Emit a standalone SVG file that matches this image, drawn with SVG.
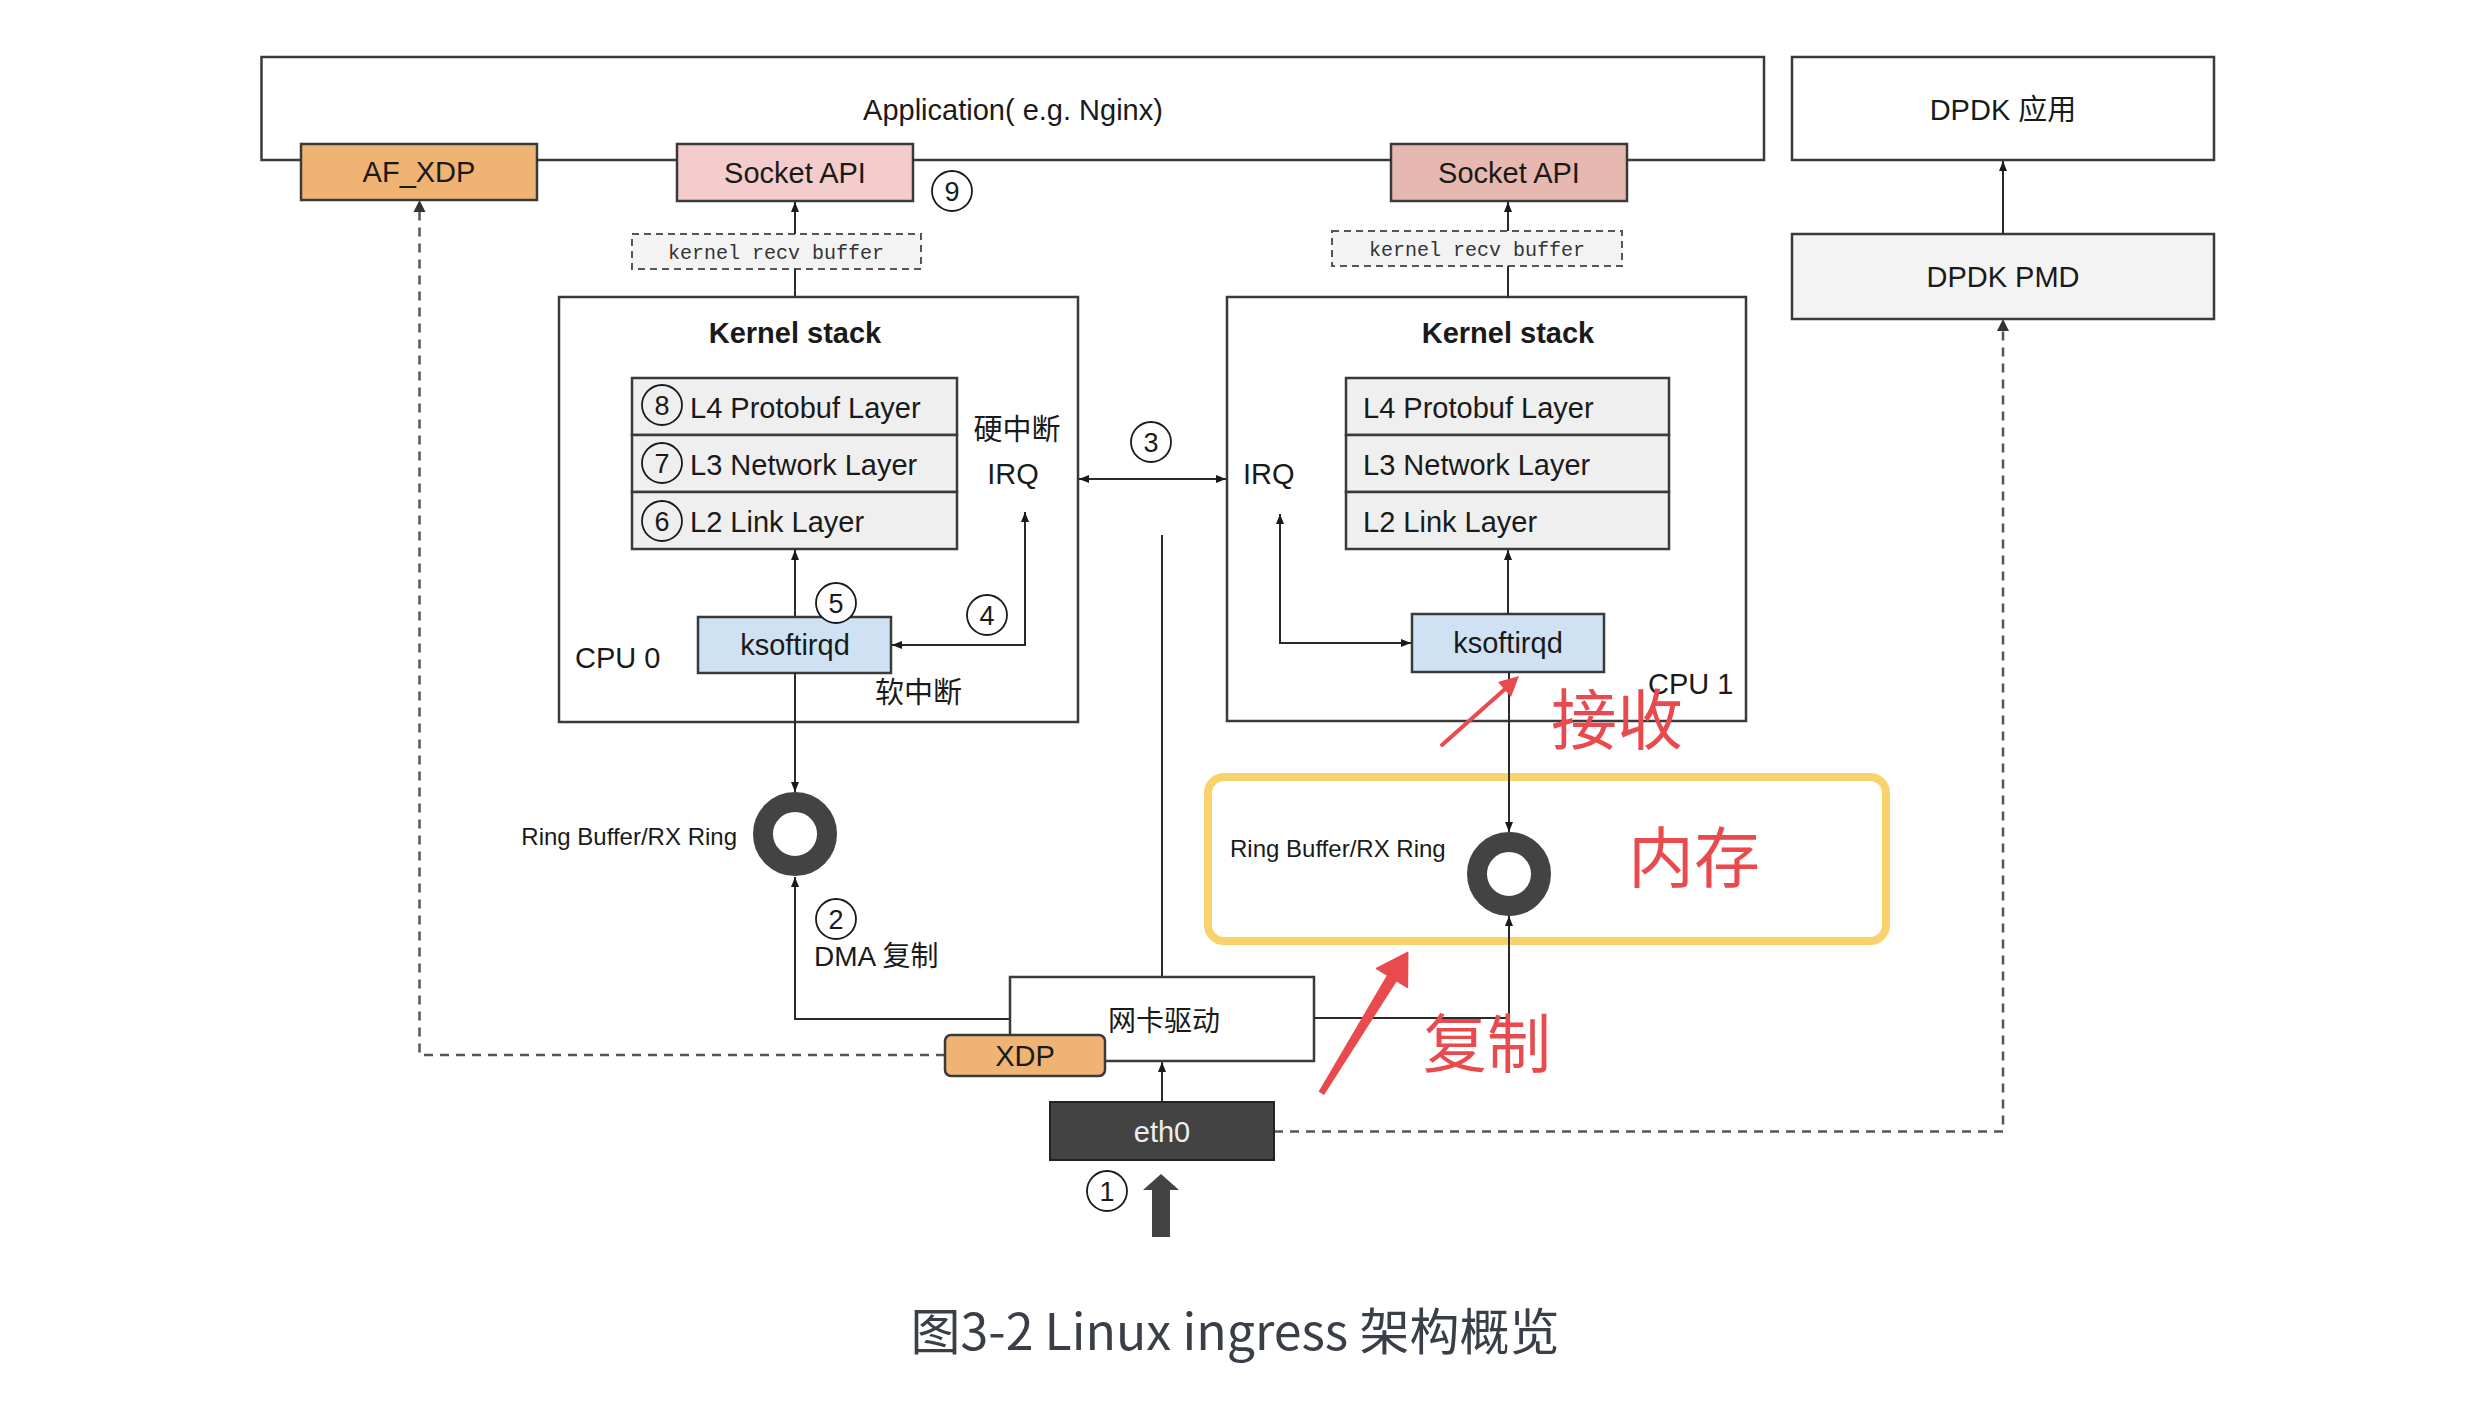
<svg xmlns="http://www.w3.org/2000/svg" width="2480" height="1402" viewBox="0 0 2480 1402">
<defs>
<style>
text{font-family:"Liberation Sans",Arial,"Noto Sans CJK SC",sans-serif;fill:#1a1a1a}
.t{font-size:29px}
.c{text-anchor:middle}
.b{font-weight:bold}
.box{stroke:#3a3a3a;stroke-width:2.5}
.ln{stroke:#2a2a2a;stroke-width:2;fill:none}
.dash{stroke:#555;stroke-width:2.5;fill:none;stroke-dasharray:9 7}
.num{font-size:27px;text-anchor:middle}
.circ{fill:none;stroke:#1a1a1a;stroke-width:1.8}
.mono{font-family:"Liberation Mono","DejaVu Sans Mono",monospace;font-size:20px;text-anchor:middle;fill:#333}
.red{fill:#e84a4e;font-family:"Noto Sans CJK SC",sans-serif}
.ring{fill:none;stroke:#434343;stroke-width:20}
</style>
<marker id="ah" viewBox="0 0 10 8" refX="10" refY="4" markerWidth="10" markerHeight="8" markerUnits="userSpaceOnUse" orient="auto-start-reverse">
<path d="M0,0 L10,4 L0,8 z" fill="#1a1a1a"/>
</marker>
</defs>
<rect width="2480" height="1402" fill="#ffffff"/>

<g id="application">
<rect class="box" x="261.5" y="57" width="1502.5" height="103" fill="#fff"/>
<text class="t c" x="1013" y="120">Application( e.g. Nginx)</text>
</g>
<g id="af_xdp">
<rect class="box" x="301" y="144" width="236" height="56" fill="#efb474"/>
<text class="t c" x="419" y="182">AF_XDP</text>
</g>
<g id="socket_api_0">
<rect class="box" x="677" y="144" width="236" height="57" fill="#f4cccc"/>
<text class="t c" x="795" y="183">Socket API</text>
</g>
<g id="socket_api_1">
<rect class="box" x="1391" y="144" width="236" height="57" fill="#e6b8af"/>
<text class="t c" x="1509" y="183">Socket API</text>
</g>
<g id="dpdk_app">
<rect class="box" x="1792" y="57" width="422" height="103" fill="#fff"/>
<text class="t c" x="2003" y="120">DPDK 应用</text>
</g>
<g id="dpdk_pmd">
<rect class="box" x="1792" y="234" width="422" height="85" fill="#f3f3f3"/>
<text class="t c" x="2003" y="287">DPDK PMD</text>
</g>
<g id="recv_buffer_0">
<rect x="632" y="234" width="289" height="35" fill="#f3f3f3" stroke="#555" stroke-width="2" stroke-dasharray="7 5"/>
<text class="mono" x="776" y="259">kernel recv buffer</text>
</g>
<g id="recv_buffer_1">
<rect x="1332" y="231" width="290" height="35" fill="#f3f3f3" stroke="#555" stroke-width="2" stroke-dasharray="7 5"/>
<text class="mono" x="1477" y="256">kernel recv buffer</text>
</g>

<g id="kernel_stack_0">
<rect class="box" x="559" y="297" width="519" height="425" fill="#fff"/>
<text class="t c b" x="795" y="343">Kernel stack</text>
<text class="t" x="575" y="668">CPU 0</text>
<text class="t c" x="1017" y="440">硬中断</text>
<text class="t c" x="1013" y="484">IRQ</text>
<text class="t" x="875" y="703">软中断</text>
</g>
<g id="layers_0">
<rect class="box" x="632" y="378" width="325" height="57" fill="#efefef"/>
<rect class="box" x="632" y="435" width="325" height="57" fill="#efefef"/>
<rect class="box" x="632" y="492" width="325" height="57" fill="#efefef"/>
<text class="t" x="690" y="418">L4 Protobuf Layer</text>
<text class="t" x="690" y="475">L3 Network Layer</text>
<text class="t" x="690" y="532">L2 Link Layer</text>
</g>
<g id="ksoftirqd_0">
<rect class="box" x="698" y="617" width="193" height="56" fill="#cfe2f3"/>
<text class="t c" x="795" y="655">ksoftirqd</text>
</g>

<g id="kernel_stack_1">
<rect class="box" x="1227" y="297" width="519" height="424" fill="#fff"/>
<text class="t c b" x="1508" y="343">Kernel stack</text>
<text class="t" x="1243" y="484">IRQ</text>
<text class="t" x="1648" y="694">CPU 1</text>
</g>
<g id="layers_1">
<rect class="box" x="1346" y="378" width="323" height="57" fill="#efefef"/>
<rect class="box" x="1346" y="435" width="323" height="57" fill="#efefef"/>
<rect class="box" x="1346" y="492" width="323" height="57" fill="#efefef"/>
<text class="t" x="1363" y="418">L4 Protobuf Layer</text>
<text class="t" x="1363" y="475">L3 Network Layer</text>
<text class="t" x="1363" y="532">L2 Link Layer</text>
</g>
<g id="ksoftirqd_1">
<rect class="box" x="1412" y="614" width="192" height="58" fill="#cfe2f3"/>
<text class="t c" x="1508" y="653">ksoftirqd</text>
</g>

<g id="memory_frame">
<rect x="1208" y="777" width="678" height="164" rx="16" fill="none" stroke="#f8d26b" stroke-width="8"/>
</g>

<g id="connectors">
<line class="ln" x1="2003" y1="234" x2="2003" y2="161" marker-end="url(#ah)"/>
<line class="ln" x1="795" y1="234" x2="795" y2="202" marker-end="url(#ah)"/>
<line class="ln" x1="795" y1="297" x2="795" y2="269"/>
<line class="ln" x1="1508" y1="231" x2="1508" y2="202" marker-end="url(#ah)"/>
<line class="ln" x1="1508" y1="297" x2="1508" y2="266"/>
<line class="ln" x1="795" y1="617" x2="795" y2="550" marker-end="url(#ah)"/>
<line class="ln" x1="1508" y1="614" x2="1508" y2="550" marker-end="url(#ah)"/>
<polyline class="ln" points="892,645 1025,645 1025,512" marker-start="url(#ah)" marker-end="url(#ah)"/>
<polyline class="ln" points="1411,643 1280,643 1280,514" marker-start="url(#ah)" marker-end="url(#ah)"/>
<line class="ln" x1="1079" y1="479" x2="1226" y2="479" marker-start="url(#ah)" marker-end="url(#ah)"/>
<line class="ln" x1="1162" y1="535" x2="1162" y2="977"/>
<line class="ln" x1="795" y1="673" x2="795" y2="792" marker-end="url(#ah)"/>
<line class="ln" x1="1509" y1="672" x2="1509" y2="832" marker-end="url(#ah)"/>
<polyline class="ln" points="1010,1019 795,1019 795,877" marker-end="url(#ah)"/>
<polyline class="ln" points="1314,1018 1509,1018 1509,916" marker-end="url(#ah)"/>
<line class="ln" x1="1162" y1="1102" x2="1162" y2="1062" marker-end="url(#ah)"/>
<polyline class="dash" points="945,1055 419.5,1055 419.5,212"/>
<path d="M413.5,212 L419.5,200 L425.5,212 z" fill="#333"/>
<polyline class="dash" points="1274,1131.5 2003,1131.5 2003,331"/>
<path d="M1997,331 L2003,319 L2009,331 z" fill="#333"/>
</g>

<g id="ring_0">
<circle class="ring" cx="795" cy="834" r="32"/>
<text x="737" y="845" font-size="24" text-anchor="end">Ring Buffer/RX Ring</text>
</g>
<g id="ring_1">
<circle class="ring" cx="1509" cy="874" r="32"/>
<text x="1230" y="857" font-size="24">Ring Buffer/RX Ring</text>
</g>

<g id="nic_driver">
<rect class="box" x="1010" y="977" width="304" height="84" fill="#fff"/>
<text class="c" x="1164" y="1031" font-size="28">网卡驱动</text>
</g>
<g id="xdp">
<rect class="box" x="945" y="1035" width="160" height="41" rx="6" fill="#efb474"/>
<text class="t c" x="1025" y="1066">XDP</text>
</g>
<g id="eth0">
<rect x="1050" y="1102" width="224" height="58" fill="#434343" stroke="#222" stroke-width="2"/>
<text class="t c" x="1162" y="1142" style="fill:#eeeeee">eth0</text>
</g>
<g id="ingress_arrow">
<polygon points="1152,1237 1152,1190 1143,1190 1161,1174 1179,1190 1170,1190 1170,1237" fill="#434343"/>
</g>

<g id="labels">
<text x="814" y="966" font-size="28">DMA 复制</text>
<circle class="circ" cx="1107" cy="1191" r="20"/><text class="num" x="1107" y="1201">1</text>
<circle class="circ" cx="836" cy="919" r="20"/><text class="num" x="836" y="929">2</text>
<circle class="circ" cx="1151" cy="442" r="20"/><text class="num" x="1151" y="452">3</text>
<circle class="circ" cx="987" cy="615" r="20"/><text class="num" x="987" y="625">4</text>
<circle class="circ" cx="836" cy="603" r="20" style="fill:#fff"/><text class="num" x="836" y="613">5</text>
<circle class="circ" cx="662" cy="521" r="20"/><text class="num" x="662" y="531">6</text>
<circle class="circ" cx="662" cy="463" r="20"/><text class="num" x="662" y="473">7</text>
<circle class="circ" cx="662" cy="405" r="20"/><text class="num" x="662" y="415">8</text>
<circle class="circ" cx="952" cy="191" r="20"/><text class="num" x="952" y="201">9</text>
</g>

<g id="annotations">
<line x1="1442" y1="745" x2="1505" y2="689" stroke="#e84a4e" stroke-width="4" stroke-linecap="round"/>
<path d="M1519,676 L1511,697 L1498,682 z" fill="#e84a4e"/>
<text class="red" x="1551" y="744" font-size="66">接收</text>
<text class="red" x="1628" y="882" font-size="66">内存</text>
<polygon points="1407.7,952.3 1407.4,987.3 1396.3,980.5 1323.8,1094 1319.6,1091.4 1387.7,975.3 1376.6,968.5" fill="#e84a4e" stroke="#e84a4e" stroke-width="1.5" stroke-linejoin="round"/>
<text class="red" x="1423" y="1067" font-size="64">复制</text>
</g>

<g id="caption">
<text x="1235" y="1350" font-size="50" text-anchor="middle" style="fill:#3a3f47;font-family:'Noto Sans CJK SC','Liberation Sans',sans-serif">图3-2 Linux ingress 架构概览</text>
</g>
</svg>
